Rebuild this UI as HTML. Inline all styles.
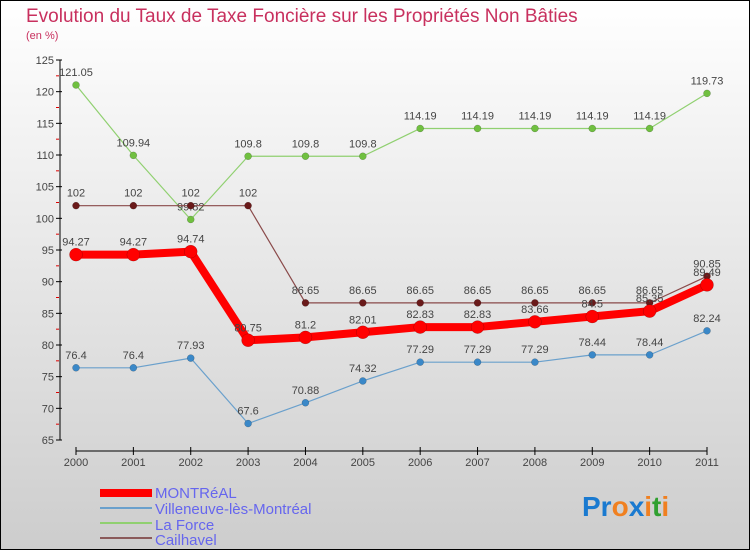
<!DOCTYPE html>
<html><head><meta charset="utf-8"><style>
body{margin:0}
#c{width:750px;height:550px;position:relative;overflow:hidden}
svg text{font-family:"Liberation Sans",sans-serif}
</style></head><body>
<div id="c">
<svg id="s" width="750" height="550" xmlns="http://www.w3.org/2000/svg">
<defs><linearGradient id="bg" x1="0" y1="0" x2="0" y2="1"><stop offset="0" stop-color="#ffffff"/><stop offset="1" stop-color="#cdcdcd"/></linearGradient></defs>
<rect x="0.5" y="0.5" width="749" height="549" fill="url(#bg)" stroke="#000"/>
<text x="26" y="22" font-size="19" fill="#c8305e">Evolution du Taux de Taxe Foncière sur les Propriétés Non Bâties</text>
<text x="26" y="39" font-size="11" fill="#c8305e">(en %)</text>
<g id="axes"></g><g id="series"></g>
<g>
<rect x="100" y="489" width="52" height="8" fill="#f00"/>
<text x="155" y="498" font-size="15" fill="#6666ee">MONTRéAL</text>
<rect x="100" y="507" width="52" height="2" fill="#6aa0cc"/>
<text x="155" y="514" font-size="15" fill="#6666ee">Villeneuve-lès-Montréal</text>
<rect x="100" y="522" width="52" height="2" fill="#90d070"/>
<text x="155" y="530" font-size="15" fill="#6666ee">La Force</text>
<rect x="100" y="537" width="52" height="2" fill="#8a5a5a"/>
<text x="155" y="545" font-size="15" fill="#6666ee">Cailhavel</text>
</g>
<g font-size="28" font-weight="bold">
<text x="582" y="516"><tspan fill="#1a7ad0">Pr</tspan><tspan fill="#f08020">o</tspan><tspan fill="#1a7ad0">x</tspan><tspan fill="#f08020">i</tspan><tspan fill="#30a030">t</tspan><tspan fill="#f08020">i</tspan></text>
</g>
</svg></div>
<script>
const years=["2000","2001","2002","2003","2004","2005","2006","2007","2008","2009","2010","2011"];
const yTicks=[65,70,75,80,85,90,95,100,105,110,115,120,125];
const montreal=[94.27,94.27,94.74,80.75,81.2,82.01,82.83,82.83,83.66,84.5,85.35,89.49];
const villeneuve=[76.4,76.4,77.93,67.6,70.88,74.32,77.29,77.29,77.29,78.44,78.44,82.24];
const laForce=[121.05,109.94,99.82,109.8,109.8,109.8,114.19,114.19,114.19,114.19,114.19,119.73];
const cailhavel=[102,102,102,102,86.65,86.65,86.65,86.65,86.65,86.65,86.65,90.85];
const NS="http://www.w3.org/2000/svg";
const X=i=>76+i*(707-76)/11;
const Y=v=>60+(125-v)*(380/60);
function mk(t,a,p){const e=document.createElementNS(NS,t);for(const k in a)e.setAttribute(k,a[k]);p.appendChild(e);return e;}
const ax=document.getElementById('axes');
const yl=mk('line',{x1:60,y1:60,x2:60,y2:440,stroke:'#000'},ax);


yTicks.forEach((t,i)=>{const y=Y(t);
 mk('line',{x1:56,y1:y,x2:62,y2:y,stroke:'#000'},ax);
 if(i<yTicks.length-1)mk('line',{x1:56,y1:Y(t+2.5),x2:59,y2:Y(t+2.5),stroke:'#d00'},ax);
 const tx=mk('text',{x:54,y:y+4,'font-size':11,fill:'#444','text-anchor':'end'},ax);tx.textContent=t;
 
 });
const xl=mk('line',{x1:76,y1:451,x2:707,y2:451,stroke:'#000'},ax);


years.forEach((yr,i)=>{const x=X(i);
 mk('line',{x1:x,y1:447,x2:x,y2:455,stroke:'#000'},ax);
 const tx=mk('text',{x:x,y:466,'font-size':11,fill:'#444','text-anchor':'middle'},ax);tx.textContent=yr;
 
 });
const sg=document.getElementById('series');
function draw(data,color,w,r,name,fill){
 const g=mk('g',{},sg);
 
 
 const pts=data.map((v,i)=>X(i)+','+Y(v)).join(' ');
 mk('polyline',{points:pts,fill:'none',stroke:color,'stroke-width':w,'stroke-linejoin':'round'},g);
 data.forEach((v,i)=>{const c=mk('circle',{cx:X(i),cy:Y(v),r:r,fill:fill,stroke:'rgba(0,0,0,0.3)','stroke-width':0.5},g);
  
  
  const t=mk('text',{x:X(i),y:Y(v)-9,'font-size':11,fill:'#444','text-anchor':'middle'},g);t.textContent=v;
  
  });
}
draw(laForce,'#90d070',1.2,3.5,'la-force','#70c040');
draw(cailhavel,'#8a4a4a',1.2,3.5,'cailhavel','#6a1a1a');
draw(villeneuve,'#6aa0cc',1.2,3.5,'villeneuve','#3a88c8');
draw(montreal,'#f00',8,6.5,'montreal','#f00');
</script>
</body></html>
